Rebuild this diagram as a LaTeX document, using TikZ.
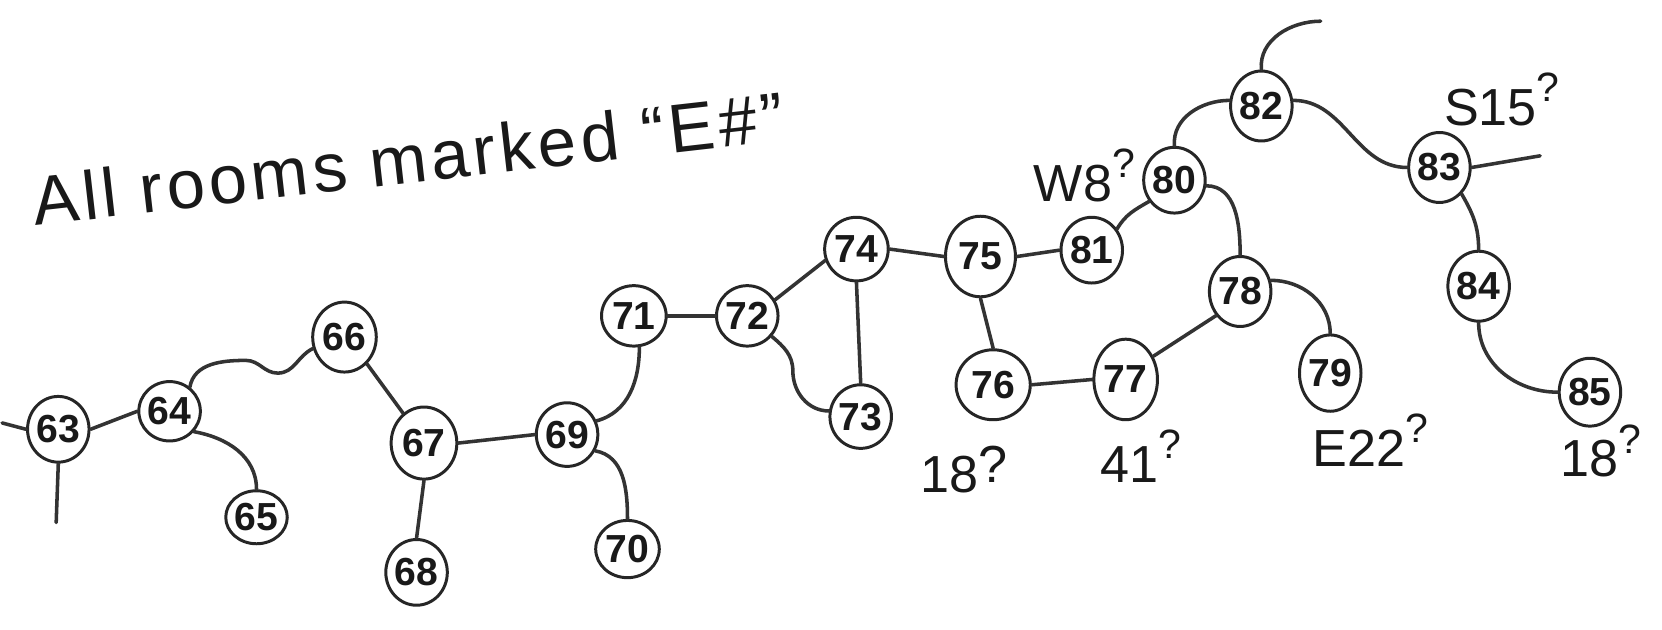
\documentclass[tikz,border=0pt]{standalone}
\usepackage{fontspec}
\setmainfont{Liberation Sans}
\newfontfamily\titlefont[LetterSpace=6]{Liberation Sans}
\usetikzlibrary{shapes.geometric}
\newcommand\qmark{\raisebox{.45em}{\fontsize{22}{22}\selectfont ?}}
\tikzset{
  room/.style={ellipse, draw=black!85, line width=1.6pt, inner sep=0pt, fill=white,
    font=\fontsize{21}{21}\selectfont\bfseries, text=black!90},
  sz/.style 2 args={minimum width=#1*0.02cm, minimum height=#2*0.02cm},
  link/.style={draw=black!80, line width=1.9pt, line cap=round},
  note/.style={font=\fontsize{28}{28}\selectfont, text=black!90, inner sep=0pt, anchor=base west},
  title/.style={font=\titlefont\fontsize{37}{37}\selectfont, text=black!90, inner sep=0pt, anchor=base west, rotate=6.5}
}
\begin{document}
\begin{tikzpicture}[x=0.02cm,y=-0.02cm]
\fill[white] (0,0) rectangle (1568,593.5);
\useasboundingbox (0,0) rectangle (1568,593.5);

\node[title] (ttl) at (33,213) {All rooms marked “E\#”};

% rooms
\node[room, sz={58}{62}] (r63) at (55,405) {63};
\node[room, sz={54}{56}] (r64) at (160,388) {64};
\node[room, sz={46}{50}] (r65) at (242,488) {65};
\node[room, sz={60}{66}] (r66) at (325,318) {66};
\node[room, sz={62}{68}] (r67) at (400,418) {67};
\node[room, sz={56}{62}] (r68) at (393,540) {68};
\node[room, sz={56}{60}] (r69) at (535,410) {69};
\node[room, sz={60}{54}] (r70) at (592,518) {70};
\node[room, sz={61}{57}] (r71) at (598,298) {71};
\node[room, sz={58}{57}] (r72) at (705,298) {72};
\node[room, sz={56}{60}] (r73) at (812,393) {73};
\node[room, sz={60}{60}] (r74) at (808,235) {74};
\node[room, sz={66}{76}] (r75) at (925,242) {75};
\node[room, sz={70}{66}] (r76) at (937,363) {76};
\node[room, sz={60}{76}] (r77) at (1062,358) {77};
\node[room, sz={56}{66}] (r78) at (1170,275) {78};
\node[room, sz={56}{72}] (r79) at (1255,352) {79};
\node[room, sz={56}{62}] (r80) at (1108,170) {80};
\node[room, sz={50}{62}] (r81) at (1030,236) {81};
\node[room, sz={54}{66}] (r82) at (1190,100) {82};
\node[room, sz={54}{66}] (r83) at (1358,158) {83};
\node[room, sz={56}{66}] (r84) at (1395,270) {84};
\node[room, sz={54}{64}] (r85) at (1500,370) {85};

% free ends
\coordinate (e63w) at (2,399);
\coordinate (e63s) at (53,493);
\coordinate (e82n) at (1246,20);
\coordinate (e83e) at (1453,147);

% connectors
\draw[link] (r63.west) -- (e63w);
\draw[link] (r63.south) -- (e63s);
\draw[link] (r63.east) -- (r64.west);
\draw[link] (r64.50) to[out=80,in=180] (232,340) to[out=0,in=180] (262,352) to[out=0,in=205] (r66.200);
\draw[link] (r64.-40) to[out=-10,in=90] (r65.north);
\draw[link] (r66.-50) -- (r67.125);
\draw[link] (r67.south) -- (r68.north);
\draw[link] (r67.east) -- (r69.west);
\draw[link] (r69.25) to[out=15,in=-90] (r71.-80);
\draw[link] (r69.-30) to[out=-10,in=90] (r70.north);
\draw[link] (r71.east) -- (r72.west);
\draw[link] (r72.30) -- (r74.200);
\draw[link] (r72.-40) to[out=-40,in=90] (748,350) to[out=-90,in=180] (r73.170);
\draw[link] (r74.south) -- (r73.north);
\draw[link] (r74.east) -- (r75.west);
\draw[link] (r75.south) -- (r76.north);
\draw[link] (r75.east) -- (r81.west);
\draw[link] (r76.east) -- (r77.west);
\draw[link] (r77.40) -- (r78.-135);
\draw[link] (r78.20) to[out=0,in=90] (r79.north);
\draw[link] (r80.-10) to[out=0,in=90] (r78.north);
\draw[link] (r81.40) to[out=60,in=210] (r80.-140);
\draw[link] (r80.north) to[out=95,in=180] (r82.170);
\draw[link] (r82.north) to[out=95,in=180] (e82n);
\draw[link] (r82.10) to[out=0,in=180] (r83.west);
\draw[link] (r83.east) -- (e83e);
\draw[link] (r83.-50) to[out=-60,in=90] (r84.north);
\draw[link] (r84.south) to[out=-90,in=180] (r85.west);

% notes
\node[note] (n81) at (975,190) {W8\qmark};
\node[note] (n83) at (1362,118) {S15\qmark};
\node[note] (n76) at (868,465) {18\raisebox{.2em}{?}};
\node[note] (n77) at (1038,455) {41\qmark};
\node[note] (n79) at (1238,440) {E22\qmark};
\node[note] (n85) at (1472,450) {18\qmark};
\end{tikzpicture}
\end{document}
